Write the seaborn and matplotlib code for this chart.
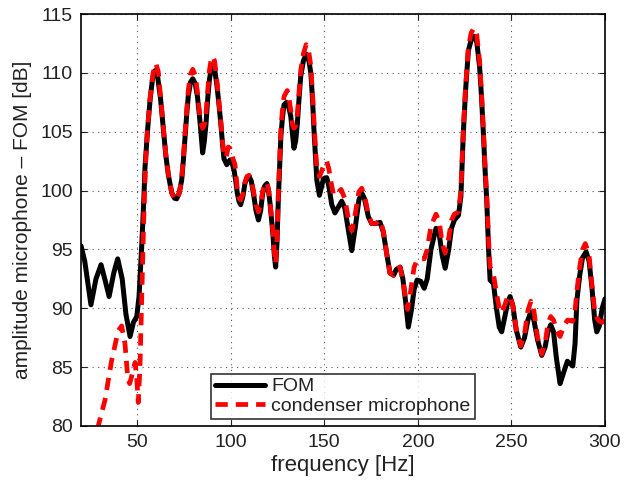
import matplotlib
matplotlib.use("Agg")
import matplotlib.pyplot as plt
import seaborn as sns
import pandas as pd

fom_freq = [20, 22, 25.3, 28, 30.7, 33, 35, 37.5, 39.6, 42, 44, 46.2, 48, 49.8, 51, 52.4, 53.5, 54.2,
            55.5, 56.9, 58.2, 59.6, 61, 62.5, 64, 65.3, 66.7, 68.5, 70, 71.1, 72.5, 73.8, 74.7, 75.6,
            76.5, 77.3, 78.5, 79.7, 81, 82.2, 83.2, 84, 85, 85.9, 86.8, 87.7, 88.6, 89.5, 90.4, 91.4,
            92.5, 93.6, 94.7, 95.6, 96.4, 97.9, 99.6, 100.8, 101.8, 102.7, 103.5, 104.4, 105.3, 106.5,
            107.6, 108.7, 109.8, 111, 112.1, 113.5, 114.8, 116, 117.1, 118.2, 119.3, 120.2, 121, 122.5,
            123.3, 124, 124.7, 125.5, 126.8, 127.7, 128.5, 129.9, 131, 132.1, 133, 133.8, 134.7, 135.6,
            136.5, 137.4, 138.8, 140.3, 141.6, 142.8, 143.7, 144.5, 145.3, 146, 147.4, 148.5, 149.5,
            151.3, 152.5, 154, 155.7, 157.5, 159.3, 161, 163, 164.7, 166.5, 168.5, 170,
            171.5, 173.5, 175.3, 177.5, 179.8, 181.5, 183.5, 185.1, 187, 188.5, 190.5, 192, 193.5,
            194.9, 196.5, 198, 199.6, 201.5, 203.4, 205, 207, 209.7, 211.5, 213, 214.6, 216.5, 218,
            219.5, 221.7, 223, 224.3, 225.5, 227, 228.5, 230, 231.5, 233, 234, 235, 236, 236.8, 237.8,
            238.6, 240.4, 242, 243.5, 244.8, 246.5, 248, 249.3, 250.8, 252.5, 255, 257, 258.8, 260.4,
            262, 264, 266.2, 268, 269.5, 271, 272.5, 274, 276, 277.8, 279.9, 282.8, 284, 285, 286.5,
            288, 289.9, 291.5, 293, 294.5, 295.6, 297, 298.5, 300]
fom_db = [95.3, 94.0, 90.3, 92.5, 93.7, 92.3, 91.0, 93.0, 94.2, 92.5, 89.5, 87.6, 88.8, 89.3, 91.0, 95.2,
          99.0, 102.0, 105.0, 107.7, 109.5, 110.2, 109.6, 107.8, 105.2, 103.0, 101.3, 99.8, 99.35, 99.3,
          99.8, 100.9, 102.6, 104.6, 106.5, 108.0, 109.2, 109.5, 109.1, 108.0, 106.5, 105.1, 103.2,
          104.2, 105.7, 107.8, 109.4, 110.3, 110.6, 110.3, 109.1, 107.5, 105.7, 104.0, 102.7, 102.2,
          102.6, 102.3, 101.7, 100.8, 99.8, 99.1, 98.8, 99.5, 100.6, 101.1, 101.2, 100.8, 99.8, 98.3,
          97.5, 98.3, 99.8, 100.4, 100.6, 100.0, 98.9, 96.4, 94.5, 93.5, 95.5, 99.5, 104.6, 106.3,
          107.3, 107.5, 107.1, 106.3, 104.8, 103.6, 104.2, 105.7, 107.8, 109.7, 111.0, 111.6, 111.2,
          110.0, 107.8, 105.1, 102.8, 100.9, 99.6, 100.3, 101.0, 101.1, 100.3,
          98.8, 98.1, 98.6, 99.1, 98.5, 96.5, 94.9, 96.8, 99.2, 99.8, 99.3, 97.8, 97.2, 97.2,
          97.3, 96.5, 94.5, 93.0, 92.8, 93.3, 93.5, 92.5, 90.5, 88.4, 89.8, 91.6, 92.4, 92.3, 91.7,
          92.5, 95.0, 96.8, 96.2, 94.5, 93.4, 95.0, 96.8, 97.5, 97.9, 99.5, 104.9, 108.5, 111.9, 112.8,
          113.1, 112.6, 110.5, 108.0, 104.9, 101.5, 99.2, 95.0, 92.4, 92.1, 90.0, 88.4, 88.0, 89.3,
          90.5, 91.0, 90.2, 88.2, 86.7, 87.5, 89.0, 89.7, 89.0, 87.3, 86.0, 86.7, 88.0, 88.6, 88.0,
          85.8, 83.6, 84.5, 85.5, 85.1, 87.0, 90.7, 92.8, 94.3, 94.8, 94.0, 91.8, 89.0, 88.0, 88.5,
          90.0, 90.8]

cond_freq = [27, 29.2, 32.8, 36.4, 39.9, 41.7, 43.5, 45, 46, 47.5, 48.9, 49.8, 50.6, 51.5, 52.4, 53.5,
             54.5, 55.5, 57, 58.5, 60, 61.3, 62.5, 64, 65.3, 66.7, 68.5, 70, 71.1, 72.5, 73.8, 74.7,
             75.6, 76.5, 77.3, 78.5, 79.7, 81, 82.2, 83.2, 84, 85, 85.9, 86.8, 87.7, 88.6, 89.5, 90.4,
             91.4, 92.5, 93.6, 94.7, 95.6, 96.4, 97.5, 98.7, 99.6, 100.8, 102.3, 103.5, 104.4, 105.3,
             106.5, 107.6, 108.7, 109.8, 111, 112.1, 113.5, 114.8, 116, 117.1, 118.2, 119.3, 120.2, 121,
             122.5, 123.3, 124, 124.7, 125.5, 126.8, 127.7, 128.5, 130.2, 131, 132.1, 133, 133.8, 134.7,
             135.6, 136.5, 137.4, 138.8, 140.3, 141.6, 142.8, 143.7, 144.5, 145.3, 146, 147.4, 148.5,
             149.5, 151.3, 152.5, 153.5, 155, 157, 159, 161, 163, 164.7, 166.5, 168.5, 170, 171.5, 173.5,
             175.3, 177.5, 179.8, 181.5, 183.5, 185.1, 187, 188.5, 190.5, 192, 193.5, 194.5, 196, 198,
             199.6, 201.5, 203.4, 205, 207, 209.7, 211.5, 213, 214.6, 216.5, 218, 219.5, 221.7, 223,
             224.3, 225.5, 227, 228.5, 230, 231.5, 233, 234, 235, 236, 236.8, 237.8, 238.6, 240.4, 242,
             243.5, 244.8, 246.5, 248, 249.3, 250.8, 252.5, 255, 257, 258.8, 260.4, 262, 264, 266.2,
             268, 269.5, 271, 272.5, 274, 276, 278, 280, 282.8, 284, 285, 286.5, 288, 289.5, 291.5,
             293, 294.5, 295.6, 297, 298.5, 300]
cond_db = [78.0, 80.0, 82.2, 85.6, 88.1, 88.5, 87.0, 84.0, 83.6, 84.5, 85.4, 84.0, 82.0, 85.0, 90.5,
           97.5, 102.3, 105.2, 108.0, 110.0, 110.8, 110.1, 108.0, 105.3, 103.1, 101.3, 99.8, 99.3, 99.2,
           99.8, 101.0, 102.8, 104.9, 106.9, 108.5, 109.9, 110.3, 109.8, 108.4, 106.8, 105.8, 105.3,
           105.6, 106.6, 108.5, 110.2, 111.1, 111.4, 111.0, 109.5, 107.7, 105.9, 104.2, 103.0, 102.8,
           103.7, 103.6, 102.9, 102.2, 100.2, 99.4, 99.2, 99.7, 100.7, 101.2, 101.3, 100.9, 100.0, 98.8,
           98.2, 98.8, 100.0, 100.5, 100.7, 100.1, 99.0, 96.6, 94.8, 93.8, 95.8, 100.0, 105.2, 107.0,
           108.0, 108.5, 108.0, 106.8, 105.6, 105.3, 105.5, 106.5, 108.3, 110.2, 111.6, 112.4, 111.9,
           110.6, 108.3, 105.8, 103.6, 102.0, 101.2, 101.6, 102.1, 102.5, 101.8, 100.8, 99.6, 99.8,
           100.1, 99.3, 97.5, 96.6, 98.0, 99.9, 100.2, 99.6, 98.0,
           97.2, 97.2, 97.5, 96.6, 94.5, 93.0, 92.8, 93.3, 93.5, 92.3, 90.8, 89.9, 91.3, 93.5, 94.1,
           94.2, 94.2, 95.0, 97.0, 98.0, 97.3, 95.5, 94.7, 96.0, 97.5, 98.0, 98.2, 100.0, 105.2, 108.8,
           112.2, 113.4, 113.8, 113.2, 111.0, 108.3, 105.2, 101.8, 99.5, 95.8, 93.5, 92.9, 91.3, 90.0,
           89.6, 90.3, 91.0, 91.0, 90.2, 88.3, 86.8, 87.8, 89.8, 90.6, 89.8, 87.5, 86.1, 87.0, 88.7,
           89.3, 89.0, 88.2, 87.6, 88.5, 89.0, 88.9, 89.8, 91.5, 93.5, 95.0, 95.5, 94.5, 92.0, 89.8,
           89.2, 88.9, 88.8, 89.0]

x_ticks = [50, 100, 150, 200, 250, 300]
y_ticks = [80, 85, 90, 95, 100, 105, 110, 115]

sns.set_style("white")
plt.rcParams['font.family'] = ['Liberation Sans', 'DejaVu Sans']

fig = plt.figure(figsize=(6.3, 4.8), dpi=100)
ax = fig.add_axes([0.1286, 0.1125, 0.8317, 0.8583])

df_fom = pd.DataFrame({"f": fom_freq, "a": fom_db})
df_cond = pd.DataFrame({"f": cond_freq, "a": cond_db})

sns.lineplot(data=df_fom, x="f", y="a", ax=ax, color="black", lw=3.6, label="FOM",
             sort=False, estimator=None, solid_joinstyle="round", solid_capstyle="round")
sns.lineplot(data=df_cond, x="f", y="a", ax=ax, color="#ff0000", lw=3.4, label="condenser microphone",
             sort=False, estimator=None)
ax.lines[1].set_dashes((2.6, 1.7))

ax.set_xlim(20, 300)
ax.set_ylim(80, 115)
ax.set_xticks(x_ticks)
ax.set_yticks(y_ticks)
ax.grid(True, linestyle=(0, (1, 4)), color="#555555", linewidth=0.8)
ax.tick_params(direction="in", length=4, width=0.8, labelsize=14, colors="#222222",
               top=True, right=True, bottom=True, left=True, pad=6)
for s in ax.spines.values():
    s.set_visible(True)
    s.set_color("black")
    s.set_linewidth(1.2)
ax.set_xlabel("frequency [Hz]", fontsize=16, color="#222222", labelpad=3)
ax.set_ylabel("amplitude microphone \u2013 FOM [dB]", fontsize=15, color="#222222", labelpad=6)

leg = ax.legend(loc="lower left", bbox_to_anchor=(0.2481, 0.0174, 0.5038, 0.124), mode="expand",
                fontsize=14, frameon=True, fancybox=False, edgecolor="black",
                handlelength=2.6, handletextpad=0.3, borderpad=0.2, labelspacing=0.1,
                borderaxespad=0)
leg.get_frame().set_linewidth(1.2)
for t in leg.get_texts():
    t.set_color("#222222")

fig.savefig("out.png", dpi=100)
